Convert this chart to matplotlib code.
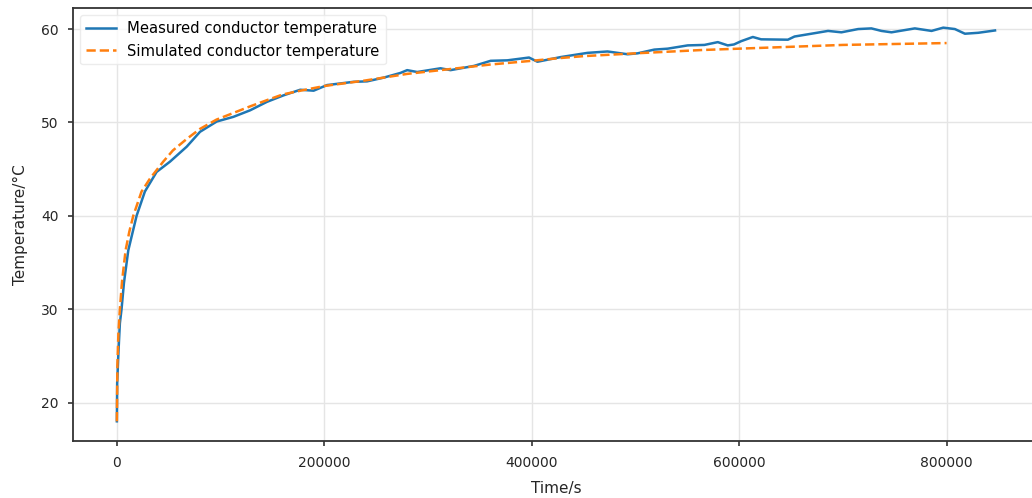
# measured vs. simulated conductor temperature
import numpy as np
import matplotlib.pyplot as plt

# measured conductor temperature (time in s, temperature in degC)
t_meas = [0, 300, 1600, 2900, 4500, 6800, 11000, 19000, 27000, 38300, 51200,
          67300, 80200, 96300, 112400, 128500,
          144600, 160700, 176800, 189700, 202600, 228300, 241300, 257300, 273400,
          279900, 289600, 312100, 321700, 344300, 360400, 376500, 397400, 405500,
          428000, 453800, 473100, 492500, 502100, 518200, 531100, 550400, 566500,
          579400, 589000, 595000, 601900, 613200, 621200, 647000, 653400, 669600,
          685700, 698600, 714700, 727500, 737200, 746900, 769400, 785500, 796800,
          808000, 817700, 830600, 846700]
temp_meas = [18.0, 22.1, 25.6, 28.5, 30.0, 32.8, 36.3, 40.0, 42.6, 44.7, 45.8,
             47.4, 49.0, 50.1, 50.6, 51.3,
             52.2, 52.9, 53.5, 53.4, 54.0, 54.35, 54.4, 54.8, 55.3,
             55.6, 55.4, 55.8, 55.6, 56.05, 56.6, 56.65, 56.95, 56.5,
             57.0, 57.45, 57.6, 57.3, 57.4, 57.8, 57.9, 58.25, 58.3,
             58.6, 58.25, 58.35, 58.7, 59.15, 58.9, 58.86, 59.2, 59.5,
             59.8, 59.65, 60.0, 60.07, 59.8, 59.65, 60.07, 59.8, 60.15,
             60.0, 59.5, 59.6, 59.85]

# simulated conductor temperature
t_sim = [0, 500, 1500, 2900, 5000, 8400, 12000, 15800, 23800, 32000, 44700,
         54000, 67000, 80000, 96000, 112000, 128000, 145000, 160000, 177000,
         200000, 240000, 280000, 320000, 360000, 400000, 428000, 450000, 500000,
         563000, 600000, 700000, 800000]
temp_sim = [18.0, 24.0, 27.5, 30.0, 33.0, 36.3, 38.3, 40.0, 42.6, 44.0, 45.8,
            47.0, 48.2, 49.3, 50.3, 51.0, 51.7, 52.4, 53.0, 53.4,
            53.9, 54.5, 55.2, 55.7, 56.2, 56.6, 56.9, 57.1, 57.4,
            57.75, 57.9, 58.3, 58.5]

dark = '#333333'
fig = plt.figure(figsize=(10.32, 4.98), dpi=100)
ax = fig.add_axes([0.0707, 0.1145, 0.936, 0.8695])

ax.plot(t_meas, temp_meas, color='#1f77b4', lw=1.8, label='Measured conductor temperature')
ax.plot(t_sim, temp_sim, color='#ff7f0e', lw=1.8, ls='--', label='Simulated conductor temperature')

ax.set_xticks([0, 200000, 400000, 600000, 800000])
ax.set_yticks([20, 30, 40, 50, 60])
ax.grid(True, color='#e5e5e5', lw=1)
ax.set_axisbelow(True)
for side in ['left', 'bottom', 'top', 'right']:
    ax.spines[side].set_color(dark)
    ax.spines[side].set_linewidth(1.3)
ax.tick_params(colors=dark, labelcolor='#262626', width=1.2, labelsize=10, pad=7)

ax.set_xlabel('Time/s', fontsize=11, color='#262626', labelpad=8)
ax.set_ylabel('Temperature/°C', fontsize=11, color='#262626', labelpad=9)
ax.legend(loc='upper left', fontsize=10.6, framealpha=0.8, edgecolor='#e8e8e8')

plt.savefig('out.png', dpi=100)
